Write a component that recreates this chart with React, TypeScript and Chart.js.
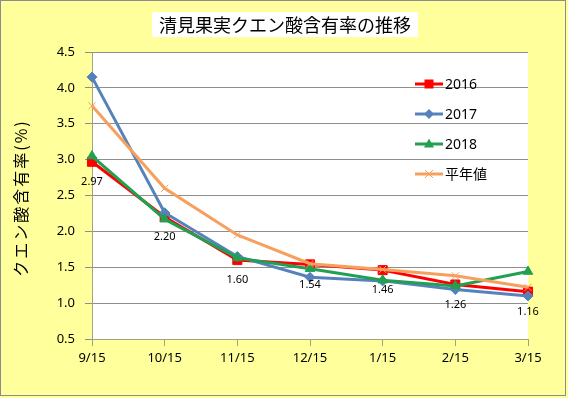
import { useEffect, useRef } from 'react';
import { Chart, registerables } from 'chart.js';
Chart.register(...registerables);

const categories = ['9/15', '10/15', '11/15', '12/15', '1/15', '2/15', '3/15'];
const s2016 = [2.97, 2.2, 1.6, 1.54, 1.46, 1.26, 1.16];
const s2017 = [4.15, 2.26, 1.65, 1.36, 1.31, 1.19, 1.1];
const s2018 = [3.05, 2.17, 1.63, 1.48, 1.32, 1.24, 1.44];
const sNormal = [3.75, 2.6, 1.95, 1.55, 1.47, 1.38, 1.22];
const seriesNames = ['2016', '2017', '2018', '平年値'];
const yMin = 0.5;
const yMax = 4.5;
const yStep = 0.5;
const titleText = '清見果実クエン酸含有率の推移';
const yTitleText = 'クエン酸含有率(%)';

const RED = '#FF0000';
const BLUE = '#5682BC';
const GREEN = '#22A052';
const ORANGE = '#F7A05E';
const AXIS = '#A3A37F';
const GRID = '#8E8E8E';
const NUMFONT = '"Noto Sans", "Noto Sans CJK JP", sans-serif';
const JPFONT = '"Noto Sans CJK JP", sans-serif';

function drawMarker(ctx: CanvasRenderingContext2D, kind: string, x: number, y: number, color: string) {
  ctx.save();
  ctx.fillStyle = color;
  ctx.strokeStyle = color;
  ctx.lineWidth = 1;
  ctx.beginPath();
  if (kind === 'rect') {
    ctx.rect(x - 4.5, y - 4.5, 9, 9);
    ctx.fill();
  } else if (kind === 'rectRot') {
    ctx.moveTo(x, y - 5);
    ctx.lineTo(x + 5, y);
    ctx.lineTo(x, y + 5);
    ctx.lineTo(x - 5, y);
    ctx.closePath();
    ctx.fill();
  } else if (kind === 'triangle') {
    ctx.moveTo(x, y - 5.5);
    ctx.lineTo(x + 5, y + 3.5);
    ctx.lineTo(x - 5, y + 3.5);
    ctx.closePath();
    ctx.fill();
  } else {
    ctx.moveTo(x - 4, y - 4);
    ctx.lineTo(x + 4, y + 4);
    ctx.moveTo(x + 4, y - 4);
    ctx.lineTo(x - 4, y + 4);
    ctx.stroke();
  }
  ctx.restore();
}

const decor = {
  id: 'decor',
  beforeDraw(chart: any) {
    const { ctx, width, height, chartArea } = chart;
    ctx.save();
    ctx.fillStyle = '#FFFF9C';
    ctx.fillRect(0, 0, width, height);
    ctx.strokeStyle = '#8C8C8C';
    ctx.lineWidth = 1;
    ctx.strokeRect(0.5, 0.5, width - 3, height - 3);
    ctx.fillStyle = '#FFFFFF';
    ctx.fillRect(chartArea.left, chartArea.top, chartArea.right - chartArea.left, chartArea.bottom - chartArea.top);
    ctx.restore();
  },
  afterDraw(chart: any) {
    const { ctx } = chart;
    ctx.save();
    // title
    ctx.fillStyle = '#FFFFFF';
    ctx.fillRect(152, 12, 266, 25);
    ctx.fillStyle = '#000000';
    ctx.font = `18px ${JPFONT}`;
    ctx.textAlign = 'center';
    ctx.textBaseline = 'middle';
    ctx.fillText(titleText, 285, 25);
    // y title
    ctx.save();
    ctx.translate(21, 198);
    ctx.rotate(-Math.PI / 2);
    ctx.font = `16px ${JPFONT}`;
    (ctx as any).letterSpacing = '2px';
    ctx.fillText(yTitleText, 0, 0);
    ctx.restore();
    // legend
    const colors = [RED, BLUE, GREEN, ORANGE];
    const kinds = ['rect', 'rectRot', 'triangle', 'crossRot'];
    seriesNames.forEach((name, i) => {
      const y = 84 + i * 30;
      ctx.strokeStyle = colors[i];
      ctx.lineWidth = 3;
      ctx.beginPath();
      ctx.moveTo(415, y);
      ctx.lineTo(443, y);
      ctx.stroke();
      drawMarker(ctx, kinds[i], 429, y, colors[i]);
      ctx.fillStyle = '#000000';
      ctx.font = `14px ${NUMFONT}`;
      ctx.textAlign = 'left';
      ctx.textBaseline = 'middle';
      ctx.fillText(name, 445, y + 1);
    });
    // data labels for 2016
    const meta = chart.getDatasetMeta(0);
    ctx.fillStyle = '#000000';
    ctx.font = `11px ${NUMFONT}`;
    ctx.textAlign = 'center';
    ctx.textBaseline = 'middle';
    meta.data.forEach((pt: any, i: number) => {
      ctx.fillText(s2016[i].toFixed(2), pt.x, pt.y + 20);
    });
    ctx.restore();
  },
};

export default function App() {
  const ref = useRef<HTMLCanvasElement>(null);
  useEffect(() => {
    if (!ref.current) return;
    const chart = new Chart(ref.current, {
      type: 'line',
      data: {
        labels: categories,
        datasets: [
          { label: seriesNames[0], data: s2016, borderColor: RED, backgroundColor: RED, borderWidth: 3, pointStyle: 'rect', pointRadius: 6.4, pointBorderWidth: 1, order: 3, tension: 0 },
          { label: seriesNames[1], data: s2017, borderColor: BLUE, backgroundColor: BLUE, borderWidth: 3, pointStyle: 'rectRot', pointRadius: 5, pointBorderWidth: 1, order: 2, tension: 0 },
          { label: seriesNames[2], data: s2018, borderColor: GREEN, backgroundColor: GREEN, borderWidth: 3, pointStyle: 'triangle', pointRadius: 5.5, pointBorderWidth: 1, order: 1, tension: 0 },
          { label: seriesNames[3], data: sNormal, borderColor: ORANGE, backgroundColor: ORANGE, borderWidth: 3, pointStyle: 'crossRot', pointRadius: 5, pointBorderWidth: 1, order: 0, tension: 0 },
        ],
      },
      options: {
        responsive: false,
        animation: false,
        layout: { padding: { top: 52, right: 40, bottom: 0, left: 0 } },
        plugins: { legend: { display: false }, tooltip: { enabled: false }, title: { display: false } },
        scales: {
          x: {
            offset: false,
            afterFit: (s: any) => { s.height = 59; },
            grid: { drawOnChartArea: false, drawTicks: true, tickLength: 7, color: AXIS },
            border: { display: true, color: AXIS, width: 1 },
            ticks: { color: '#000', font: { family: NUMFONT, size: 13 }, padding: 4, maxRotation: 0 },
          },
          y: {
            min: yMin,
            max: yMax,
            afterFit: (s: any) => { s.width = 92; },
            grid: { color: GRID, borderDash: [3, 2], tickLength: 7, drawTicks: true },
            border: { display: true, color: AXIS, width: 1 },
            ticks: { stepSize: yStep, color: '#000', font: { family: NUMFONT, size: 13 }, padding: 10, callback: (v: any) => Number(v).toFixed(1) },
          },
        },
      },
      plugins: [decor],
    });
    return () => chart.destroy();
  }, []);
  return (
    <div style={{ position: 'fixed', left: 0, top: 0, width: 568, height: 398 }}>
      <canvas ref={ref} width={568} height={398} style={{ display: 'block' }} />
    </div>
  );
}
